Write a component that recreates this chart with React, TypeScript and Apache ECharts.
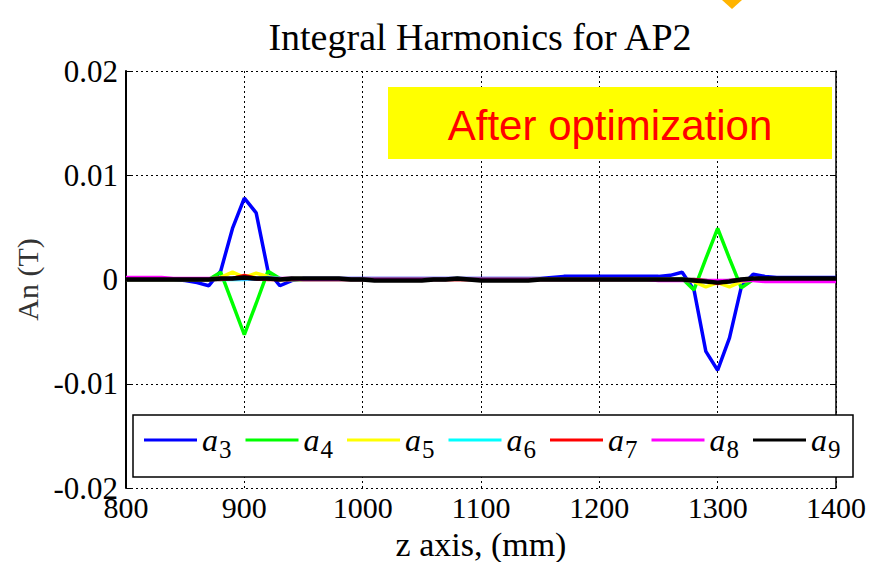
import React, { useEffect, useRef } from "react";
import * as echarts from "echarts";

const zPositions = [
  800, 810, 820, 830, 840, 850, 860, 870, 880, 890,
  900, 910, 920, 930, 940, 950, 960, 970, 980, 990,
  1000, 1010, 1020, 1030, 1040, 1050, 1060, 1070, 1080, 1090,
  1100, 1110, 1120, 1130, 1140, 1150, 1160, 1170, 1180, 1190,
  1200, 1210, 1220, 1230, 1240, 1250, 1260, 1270, 1280, 1290,
  1300, 1310, 1320, 1330, 1340, 1350, 1360, 1370, 1380, 1390,
  1400,
];

const a3 = [
  0, 0, 0, 0, 0, -0.0001, -0.0003, -0.0006, 0.0008, 0.0049,
  0.0078, 0.0064, 0.0008, -0.0006, -0.0001, 0.0001, 0.0001, 0.0001, 0.0001, 0.0001,
  0.0001, 0.0001, 0.0001, 0.0001, 0.0001, 0.0001, 0.0001, 0.0001, 0.0001, 0.0001,
  0.0001, 0.0001, 0.0001, 0.0001, 0.0001, 0.0001, 0.0002, 0.0003, 0.0003, 0.0003,
  0.0003, 0.0003, 0.0003, 0.0003, 0.0003, 0.0003, 0.0004, 0.0007, -0.001, -0.0069,
  -0.0087, -0.0056, -0.0007, 0.0005, 0.0003, 0.0002, 0.0002, 0.0002, 0.0002, 0.0002,
  0.0002,
];

const a4 = [
  0, 0, 0, 0, 0, 0, 0, 0, 0.0007, -0.0023,
  -0.0053, -0.0023, 0.0008, 0.0001, 0, 0, 0, 0, 0, 0,
  0, 0, 0, 0, 0, 0, 0, 0, 0, 0,
  0, 0, 0, 0, 0, 0, 0, 0, 0, 0,
  0, 0, 0, 0, 0, 0, 0, 0.0001, -0.001, 0.002,
  0.0049, 0.002, -0.0008, 0, 0, 0, 0, 0, 0, 0,
  0,
];

const a5 = [
  0, 0, 0, 0, 0, 0, 0, 0, 0.0002, 0.0007,
  0.0002, 0.0006, 0.0003, 0, 0, 0, 0, 0, 0, 0,
  0, 0, 0, 0, 0, 0, 0, 0, 0, 0,
  0, 0, 0, 0, 0, 0, 0, 0, 0, 0,
  0, 0, 0, 0, 0, 0, 0, 0, -0.0002, -0.0007,
  -0.0003, -0.0007, -0.0002, 0, 0, 0, 0, 0, 0, 0,
  0,
];

const a6 = [
  0, 0, 0, 0, 0, 0, 0, 0, 0, 0,
  0, 0.0001, 0.0002, 0.0001, 0, 0, 0, 0, 0, 0,
  0, 0, 0, 0, 0, 0, 0, 0, 0.0001, 0,
  0, 0, 0, 0, 0, 0, 0, 0, 0, 0,
  0, 0, 0, 0, 0, 0, 0, 0, 0, -0.0001,
  -0.0002, -0.0001, 0, 0, 0, 0, 0, 0, 0, 0,
  0,
];

const a7 = [
  0, 0, 0, 0, 0, 0, 0, 0, 0, 0.0001,
  0.0004, 0.0001, 0, 0, 0, 0, 0, 0, 0, 0,
  0, 0, 0, 0, 0, 0, 0, 0, 0, 0,
  0, 0, 0, 0, 0, 0, 0, 0, 0, 0,
  0, 0, 0, 0, 0, 0, 0, 0, 0, -0.0001,
  -0.0004, -0.0001, 0, 0, 0, 0, 0, 0, 0, 0,
  0,
];

const a8 = [
  0.0002, 0.0002, 0.0002, 0.0002, 0.0001, 0.0001, 0.0001, 0.0001, 0.0001, 0.0001,
  0.0001, 0.0001, 0.0001, 0.0001, 0.0001, 0, 0, 0, 0, 0,
  0, 0, 0, 0, 0, 0, 0, 0, 0, 0,
  0, 0, 0, 0, 0, 0, 0, 0, 0, 0,
  0, 0, 0, 0, 0, -0.0001, -0.0001, -0.0001, -0.0001, -0.0001,
  -0.0001, -0.0001, -0.0001, -0.0001, -0.0002, -0.0002, -0.0002, -0.0002, -0.0002, -0.0002,
  -0.0002,
];

const a9 = [
  0, 0, 0, 0, 0, 0, 0, 0, 0.0001, 0.0001,
  0.0002, 0.0001, 0.0001, 0, 0.0001, 0.0001, 0.0001, 0.0001, 0.0001, 0,
  0, -0.0001, -0.0001, -0.0001, -0.0001, -0.0001, 0, 0, 0.0001, 0,
  -0.0001, -0.0001, -0.0001, -0.0001, -0.0001, 0, 0, 0, 0, 0,
  0, 0, 0, 0, 0, 0, 0, 0, -0.0001, -0.0002,
  -0.0003, -0.0002, 0, 0.0001, 0.0001, 0.0001, 0.0001, 0.0001, 0.0001, 0.0001,
  0.0001,
];

const seriesNames = ["a3", "a4", "a5", "a6", "a7", "a8", "a9"];
const seriesData = [a3, a4, a5, a6, a7, a8, a9];
const seriesColors = ["#0000FF", "#00FF00", "#FFFF00", "#00FFFF", "#FF0000", "#FF00FF", "#000000"];
const seriesWidths = [3.5, 3.5, 3.5, 3.5, 3.5, 3.5, 4.5];

const yTickValues = [-0.02, -0.01, 0, 0.01, 0.02];
const xTickValues = [800, 900, 1000, 1100, 1200, 1300, 1400];

const chartTitle = "Integral Harmonics for AP2";
const annotationText = "After optimization";
const xAxisName = "z axis, (mm)";
const yAxisName = "An (T)";

const SERIF = "Liberation Serif";
const SANS = "Liberation Sans";

export default function App() {
  const ref = useRef<HTMLDivElement>(null);

  useEffect(() => {
    if (!ref.current) return;
    const chart = echarts.init(ref.current, null, { renderer: "svg" });

    const series = seriesNames.map((name, i) => ({
      name,
      type: "line",
      data: zPositions.map((z, k) => [z, seriesData[i][k]]),
      showSymbol: false,
      symbol: "none",
      lineStyle: { color: seriesColors[i], width: seriesWidths[i] },
      itemStyle: { color: seriesColors[i] },
      z: 2 + i,
    }));

    const option: any = {
      animation: false,
      backgroundColor: "#ffffff",
      textStyle: { fontFamily: SERIF, color: "#000" },
      title: {
        text: chartTitle,
        left: 475,
        textAlign: "center",
        top: 13,
        textStyle: { fontFamily: SERIF, fontSize: 38, fontWeight: "normal", color: "#000" },
      },
      grid: { left: 126, right: 36, top: 71, bottom: 74, show: false, outerBoundsMode: "none", containLabel: false },
      legend: {
        data: seriesNames,
        left: 144,
        top: 424,
        z: 10,
        icon: "rect",
        itemWidth: 53,
        itemHeight: 3,
        itemGap: 14,
        padding: 0,
        formatter: (name: string) => `{a|a}{s|${name.slice(1)}}`,
        textStyle: {
          fontFamily: SERIF,
          rich: {
            a: { fontFamily: SERIF, fontStyle: "italic", fontSize: 32, color: "#000", lineHeight: 44, verticalAlign: "middle" },
            s: { fontFamily: SERIF, fontSize: 25, color: "#000", lineHeight: 25, verticalAlign: "bottom", padding: [0, 0, 0, 1] },
          },
        },
      },
      xAxis: [
        {
          type: "value",
          min: 800,
          max: 1400,
          interval: 100,
          name: xAxisName,
          nameLocation: "middle",
          nameGap: 39,
          nameTextStyle: { fontFamily: SERIF, fontSize: 34, lineHeight: 34, color: "#000" },
          axisLine: { show: true, lineStyle: { color: "#000", width: 2 } },
          axisTick: { show: true, inside: true, length: 6, lineStyle: { color: "#000", width: 1 } },
          axisLabel: {
            margin: 4,
            fontFamily: SERIF,
            fontSize: 30,
            color: "#000",
            formatter: (v: number) => (xTickValues.includes(v) ? String(v) : ""),
          },
          splitLine: { show: true, lineStyle: { color: "#000", type: [2, 3], width: 1 } },
        },
        {
          type: "value",
          position: "top",
          min: 800,
          max: 1400,
          interval: 100,
          axisLine: { show: true, lineStyle: { color: "#000", width: 1.5 } },
          axisTick: { show: true, inside: true, length: 6, lineStyle: { color: "#000", width: 1 } },
          axisLabel: { show: false },
          splitLine: { show: false },
        },
      ],
      yAxis: [
        {
          type: "value",
          min: -0.02,
          max: 0.02,
          interval: 0.01,
          name: yAxisName,
          nameLocation: "middle",
          nameGap: 82,
          nameTextStyle: { fontFamily: SERIF, fontSize: 30, color: "#333" },
          axisLine: { show: true, onZero: false, lineStyle: { color: "#000", width: 2 } },
          axisTick: { show: true, inside: true, length: 6, lineStyle: { color: "#000", width: 1 } },
          axisLabel: {
            margin: 8,
            fontFamily: SERIF,
            fontSize: 31,
            color: "#000",
            formatter: (v: number) => {
              const m = yTickValues.find((t) => Math.abs(t - v) < 1e-9);
              return m === undefined ? "" : String(m);
            },
          },
          splitLine: { show: true, lineStyle: { color: "#000", type: [2, 3], width: 1 } },
        },
        {
          type: "value",
          position: "right",
          min: -0.02,
          max: 0.02,
          interval: 0.01,
          axisLine: { show: true, onZero: false, lineStyle: { color: "#000", width: 1.5 } },
          axisTick: { show: true, inside: true, length: 6, lineStyle: { color: "#000", width: 1 } },
          axisLabel: { show: false },
          splitLine: { show: false },
        },
      ],
      graphic: [
        {
          type: "polygon",
          shape: { points: [[722, 0], [742, 0], [732, 9]] },
          style: { fill: "#FFB400" },
        },
        {
          type: "rect",
          z: 5,
          shape: { x: 388, y: 87, width: 444, height: 72 },
          style: { fill: "#FFFF00", stroke: "none" },
        },
        {
          type: "text",
          z: 6,
          x: 610,
          y: 125,
          style: {
            text: annotationText,
            fill: "#FF0000",
            font: `42px ${SANS}`,
            textAlign: "center",
            textVerticalAlign: "middle",
          },
        },
        {
          type: "rect",
          z: 5,
          shape: { x: 133, y: 415, width: 720, height: 62 },
          style: { fill: "#FFFFFF", stroke: "#000", lineWidth: 1.5 },
        },
      ],
      series,
    };

    chart.setOption(option);
    return () => chart.dispose();
  }, []);

  return <div ref={ref} style={{ width: 872, height: 562, position: "absolute", left: 0, top: 0 }} />;
}
